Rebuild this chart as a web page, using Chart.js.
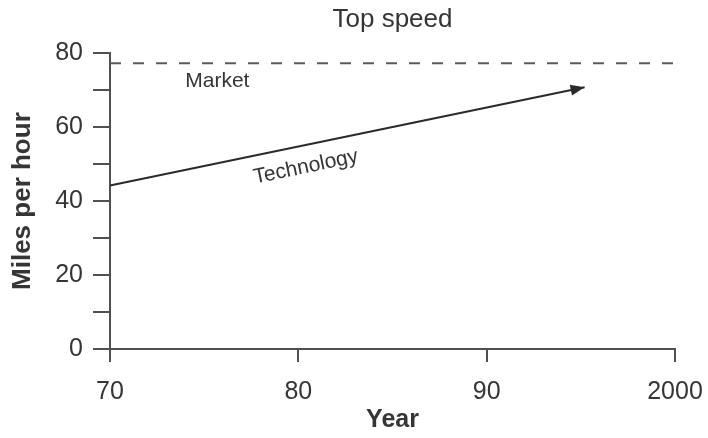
<!DOCTYPE html>
<html>
<head>
<meta charset="utf-8">
<script src="https://cdn.jsdelivr.net/npm/chart.js@4"></script>
<style>
  html, body { margin: 0; padding: 0; background: #fff; }
  #wrap { width: 708px; height: 438px; }
</style>
</head>
<body>
<div id="wrap"><canvas id="chart" width="708" height="438"></canvas></div>
<script>
/*************** Data *************************************/

var years = [70, 80, 90, 100];
var yearLabels = ['70', '80', '90', '2000'];
var marketYears = [70, 100];
var marketSpeed = [77.3, 77.3];
var techYears = [70, 95.2];
var techSpeed = [44.2, 70.8];

var FONT = "'Liberation Sans', Arial, Helvetica, sans-serif";
var INK = '#353535';
var AXIS = '#505050';

function toPoints(xs, ys) {
    var pts = [], it;
    for (it = 0; it < xs.length; it++) {
        pts.push({x: xs[it], y: ys[it]});
    }
    return pts;
}

/*************** Arrowhead and the two line labels ****************/

var notes = {
    id: 'notes',
    afterDatasetsDraw: function (chart) {
        var ctx = chart.ctx;
        var xs = chart.scales.x, ys = chart.scales.y;
        var meta = chart.getDatasetMeta(1).data;
        var a = meta[meta.length - 2], b = meta[meta.length - 1];
        var ang = Math.atan2(b.y - a.y, b.x - a.x);

        ctx.save();
        // arrowhead at the end of the technology line
        ctx.translate(b.x, b.y);
        ctx.rotate(ang);
        ctx.beginPath();
        ctx.moveTo(0, 0);
        ctx.lineTo(-14, -5.5);
        ctx.lineTo(-14, 5.5);
        ctx.closePath();
        ctx.fillStyle = '#2a2a2a';
        ctx.fill();
        ctx.restore();

        ctx.save();
        ctx.fillStyle = INK;
        ctx.font = '21px ' + FONT;
        ctx.textAlign = 'center';
        ctx.textBaseline = 'middle';
        ctx.fillText('Market', xs.getPixelForValue(75.7), ys.getPixelForValue(72.5));

        ctx.translate(xs.getPixelForValue(80.4), ys.getPixelForValue(49.2));
        ctx.rotate(ang);
        ctx.fillText('Technology', 0, 0);
        ctx.restore();
    }
};

/*************** Creating chart ****************/

var chart = new Chart(document.getElementById('chart'), {
    type: 'scatter',
    data: {
        datasets: [
            {
                label: 'Market',
                data: toPoints(marketYears, marketSpeed),
                showLine: true,
                borderColor: '#5a5a5a',
                borderWidth: 2,
                borderDash: [11, 12],
                pointRadius: 0,
                clip: false
            },
            {
                label: 'Technology',
                data: toPoints(techYears, techSpeed),
                showLine: true,
                borderColor: '#2a2a2a',
                borderWidth: 2,
                pointRadius: 0,
                clip: false
            }
        ]
    },
    options: {
        responsive: false,
        animation: false,
        layout: { padding: { left: 0, right: 33, top: 0, bottom: 0 } },
        plugins: {
            legend: { display: false },
            tooltip: { enabled: false },
            title: {
                display: true,
                text: 'Top speed',
                fullSize: false,
                color: INK,
                font: { family: FONT, size: 26, weight: 'normal' },
                padding: { top: 4, bottom: 18 }
            }
        },
        scales: {
            x: {
                type: 'linear',
                min: 70,
                max: 100,
                afterFit: function (s) {
                    s.height = 89;
                    s.paddingLeft = 0;
                    s.paddingRight = 0;
                },
                afterBuildTicks: function (s) {
                    s.ticks = years.map(function (v) { return {value: v}; });
                },
                ticks: {
                    color: INK,
                    font: { family: FONT, size: 25 },
                    padding: 15,
                    maxRotation: 0,
                    callback: function (v) { return yearLabels[years.indexOf(v)]; }
                },
                grid: { drawOnChartArea: false, tickLength: 13, color: AXIS, lineWidth: 2 },
                border: { color: AXIS, width: 2 },
                title: {
                    display: true,
                    text: 'Year',
                    color: INK,
                    font: { family: FONT, size: 25, weight: 'bold' },
                    padding: { top: 0, bottom: 3 }
                }
            },
            y: {
                min: 0,
                max: 80,
                afterFit: function (s) { s.width = 110; },
                ticks: {
                    stepSize: 10,
                    color: INK,
                    font: { family: FONT, size: 25 },
                    padding: 10,
                    callback: function (v) { return v % 20 === 0 ? String(v) : ''; }
                },
                grid: { drawOnChartArea: false, tickLength: 17, color: AXIS, lineWidth: 2 },
                border: { color: AXIS, width: 2 },
                title: {
                    display: true,
                    text: 'Miles per hour',
                    color: INK,
                    font: { family: FONT, size: 26, weight: 'bold' },
                    padding: { top: 7, bottom: 0 }
                }
            }
        }
    },
    plugins: [notes]
});
</script>
</body>
</html>
